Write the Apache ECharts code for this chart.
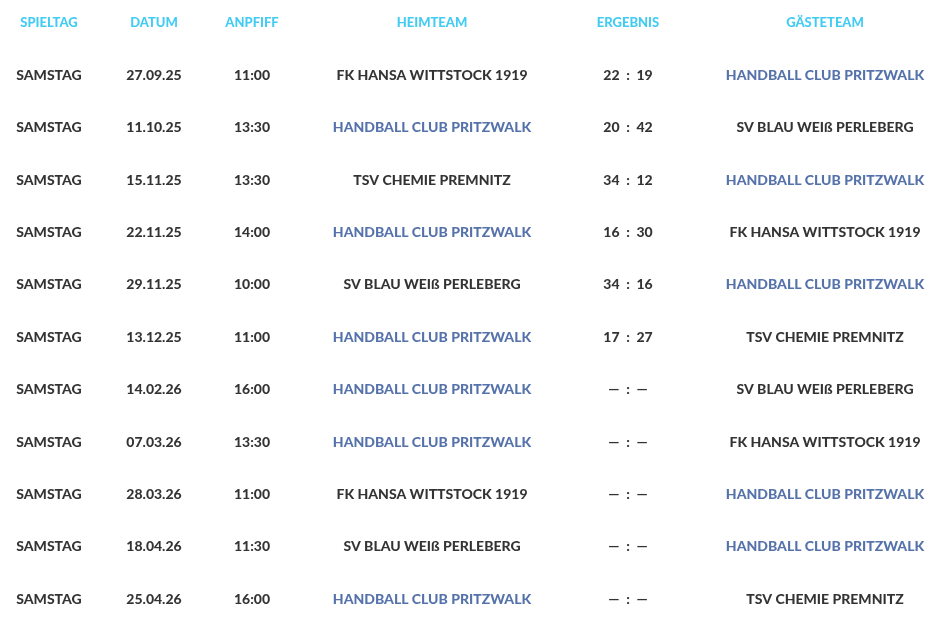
<!DOCTYPE html>
<html>
<head>
<meta charset="utf-8">
<style>html,body{margin:0;padding:0;background:#fff}#chart{width:952px;height:630px}</style>
<script src="https://cdn.jsdelivr.net/npm/echarts@6/dist/echarts.min.js"></script>
</head>
<body>
<div id="chart"></div>
<script>
var headers = ['SPIELTAG', 'DATUM', 'ANPFIFF', 'HEIMTEAM', 'ERGEBNIS', 'GÄSTETEAM'];
var days = ['SAMSTAG','SAMSTAG','SAMSTAG','SAMSTAG','SAMSTAG','SAMSTAG','SAMSTAG','SAMSTAG','SAMSTAG','SAMSTAG','SAMSTAG'];
var dates = ['27.09.25','11.10.25','15.11.25','22.11.25','29.11.25','13.12.25','14.02.26','07.03.26','28.03.26','18.04.26','25.04.26'];
var times = ['11:00','13:30','13:30','14:00','10:00','11:00','16:00','13:30','11:00','11:30','16:00'];
var homeTeams = ['FK HANSA WITTSTOCK 1919','HANDBALL CLUB PRITZWALK','TSV CHEMIE PREMNITZ','HANDBALL CLUB PRITZWALK','SV BLAU WEIß PERLEBERG','HANDBALL CLUB PRITZWALK','HANDBALL CLUB PRITZWALK','HANDBALL CLUB PRITZWALK','FK HANSA WITTSTOCK 1919','SV BLAU WEIß PERLEBERG','HANDBALL CLUB PRITZWALK'];
var homeGoals = ['22','20','34','16','34','17','—','—','—','—','—'];
var awayGoals = ['19','42','12','30','16','27','—','—','—','—','—'];
var awayTeams = ['HANDBALL CLUB PRITZWALK','SV BLAU WEIß PERLEBERG','HANDBALL CLUB PRITZWALK','FK HANSA WITTSTOCK 1919','HANDBALL CLUB PRITZWALK','TSV CHEMIE PREMNITZ','SV BLAU WEIß PERLEBERG','FK HANSA WITTSTOCK 1919','HANDBALL CLUB PRITZWALK','HANDBALL CLUB PRITZWALK','TSV CHEMIE PREMNITZ'];
var ownTeam = 'HANDBALL CLUB PRITZWALK';

// layout: column centres in pixels
var colX = [49, 154, 252, 432, 628, 825];

var data = [];
headers.forEach(function (h, c) {
  data.push({ value: [colX[c], 0], label: { formatter: h, color: '#14bff0', fontSize: 13 } });
});
dates.forEach(function (d, i) {
  var score = homeGoals[i] + '  :  ' + awayGoals[i];
  var cells = [days[i], dates[i], times[i], homeTeams[i], score, awayTeams[i]];
  cells.forEach(function (t, c) {
    data.push({ value: [colX[c], i + 1], label: { formatter: t, color: t === ownTeam ? '#2a4f96' : '#000' } });
  });
});

var chart = echarts.init(document.getElementById('chart'));
chart.setOption({
  animation: false,
  grid: { left: 0, right: 0, top: 0, bottom: 0 },
  xAxis: { type: 'value', min: 0, max: 952, show: false },
  yAxis: { type: 'value', min: -0.44, max: 11.59, inverse: true, show: false },
  series: [{
    type: 'scatter',
    symbolSize: 0,
    data: data,
    label: {
      show: true,
      position: 'inside',
      fontFamily: 'Lato',
      fontWeight: 900,
      fontSize: 14
    }
  }]
});
</script>
</body>
</html>
